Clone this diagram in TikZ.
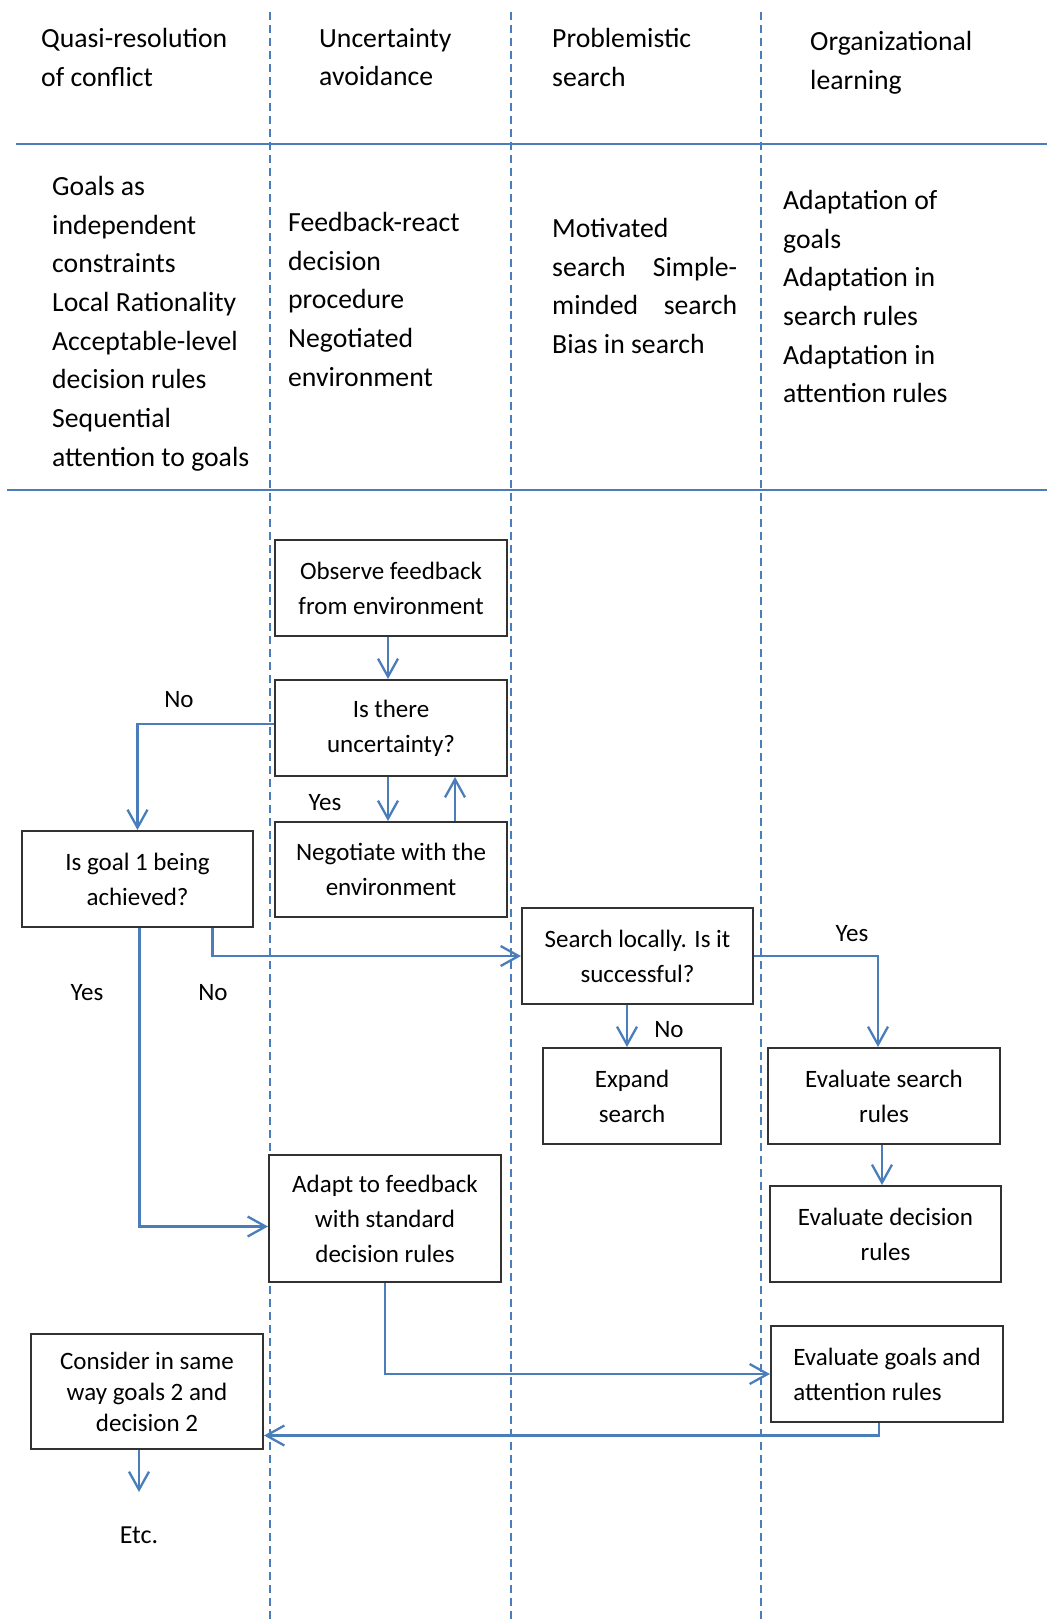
\documentclass[tikz,border=0pt]{standalone}
\usepackage{fontspec}
\setmainfont{Carlito}
\usetikzlibrary{positioning, arrows.meta}
\usepackage{xcolor}
\definecolor{lnBlue}{RGB}{74, 126, 187}
\definecolor{boxGray}{RGB}{50, 50, 50}

\begin{document}
\begin{tikzpicture}[x=1pt, y=-1pt,
    pbox/.style={draw=boxGray, line width=2pt, fill=white,
                 minimum width=232pt, minimum height=96pt,
                 align=center, inner sep=2pt,
                 font=\fontsize{25}{35}\selectfont},
    arr/.style={-{Straight Barb[length=18pt, width=20pt]}, line width=2.3pt, color=lnBlue},
    lane/.style={lnBlue, line width=1.4pt, dash pattern=on 8pt off 5pt},
    sep/.style={lnBlue, line width=2.2pt},
    col/.style={anchor=north west, inner sep=0pt, align=left,
                font=\fontsize{27.7}{38.7}\selectfont},
    lbl/.style={inner sep=0pt, font=\fontsize{25}{30}\selectfont}]
  \path[use as bounding box, fill=white] (0,0) rectangle (1047,1619);

  % swimlanes
  \foreach \x in {270,511,761}
    \draw[lane] (\x,12) -- (\x,1619);
  \draw[sep] (16,144) -- (1047,144);
  \draw[sep] (7,490) -- (1047,490);

  % headings
  \node[col] (hdA) at (41,28) {Quasi-resolution\\of conflict};
  \node[col] (hdB) at (319,28) {Uncertainty\\avoidance};
  \node[col] (hdC) at (552,28) {Problemistic\\search};
  \node[col] (hdD) at (810,31) {Organizational\\learning};

  % concepts
  \node[col] (cpA) at (52,176) {Goals as\\independent\\constraints\\Local Rationality\\Acceptable-level\\decision rules\\Sequential\\attention to goals};
  \node[col] (cpB) at (288,212) {Feedback-react\\decision\\procedure\\Negotiated\\environment};
  \node[col] (cpC) at (552,218) {Motivated\\\makebox[185pt][l]{search\hfill Simple-}\\\makebox[185pt][l]{minded\hfill search}\\Bias in search};
  \node[col] (cpD) at (783,190) {Adaptation of\\goals\\Adaptation in\\search rules\\Adaptation in\\attention rules};

  % flow boxes
  \node[pbox] (obs) at (391,588) {Observe feedback\\from environment};
  \node[pbox] (unc) at (391,728) {Is there\\uncertainty?};
  \node[pbox, minimum height=95pt] (neg) at (391,869.5) {Negotiate with the\\environment};
  \node[pbox, minimum width=231pt] (goal) at (137.5,879) {Is goal 1 being\\achieved?};
  \node[pbox, minimum width=231pt] (srch) at (637.5,956) {Search locally. Is it\\successful?};
  \node[pbox, minimum width=178pt] (expd) at (632,1096) {Expand\\search};
  \node[pbox] (esr) at (884,1096) {Evaluate search\\rules};
  \node[pbox, minimum width=231pt] (edr) at (885.5,1234) {Evaluate decision\\rules};
  \node[pbox, minimum height=127pt] (adpt) at (385,1218.5) {Adapt to feedback\\with standard\\decision rules};
  \node[pbox, align=left] (ega) at (887,1374) {Evaluate goals and\\attention rules};
  \node[pbox, minimum height=115pt, font=\fontsize{25}{31}\selectfont] (cons) at (147,1391.5) {Consider in same\\way goals 2 and\\decision 2};
  \coordinate (etctop) at (139,1492);
  \node[lbl, font=\fontsize{26}{30}\selectfont] (etc) at (139,1535) {Etc.};

  % connectors
  \draw[arr] ([xshift=-3pt]obs.south) -- ([xshift=-3pt]unc.north);
  \draw[arr] ([xshift=-3pt]unc.south) -- ([xshift=-3pt]neg.north);
  \draw[arr] ([xshift=64pt]neg.north) -- ([xshift=64pt]unc.south);
  \draw[arr] ([yshift=4pt]unc.west) -| (goal.north);
  \draw[arr] ([xshift=75pt]goal.south) |- (srch.west);
  \draw[arr] ([xshift=2pt]goal.south) |- ([yshift=-8pt]adpt.west);
  \draw[arr] ([xshift=-5pt]expd.north |- srch.south) -- ([xshift=-5pt]expd.north);
  \draw[arr] (srch.east) -| ([xshift=-6pt]esr.north);
  \draw[arr] ([xshift=-2pt]esr.south) -- ([xshift=-2pt]esr.south |- edr.north);
  \draw[arr] (adpt.south) |- (ega.west);
  \draw[arr] ([xshift=-8pt]ega.south) |- ([yshift=-44pt]cons.east);
  \draw[arr] (cons.south -| etctop) -- (etctop);

  % branch labels
  \node[lbl] (noA) at (179,700) {No};
  \node[lbl] (yesA) at (325,803) {Yes};
  \node[lbl] (yesB) at (87,993) {Yes};
  \node[lbl] (noB) at (213,993) {No};
  \node[lbl] (noC) at (669,1030) {No};
  \node[lbl] (yesC) at (852,934) {Yes};
\end{tikzpicture}
\end{document}
